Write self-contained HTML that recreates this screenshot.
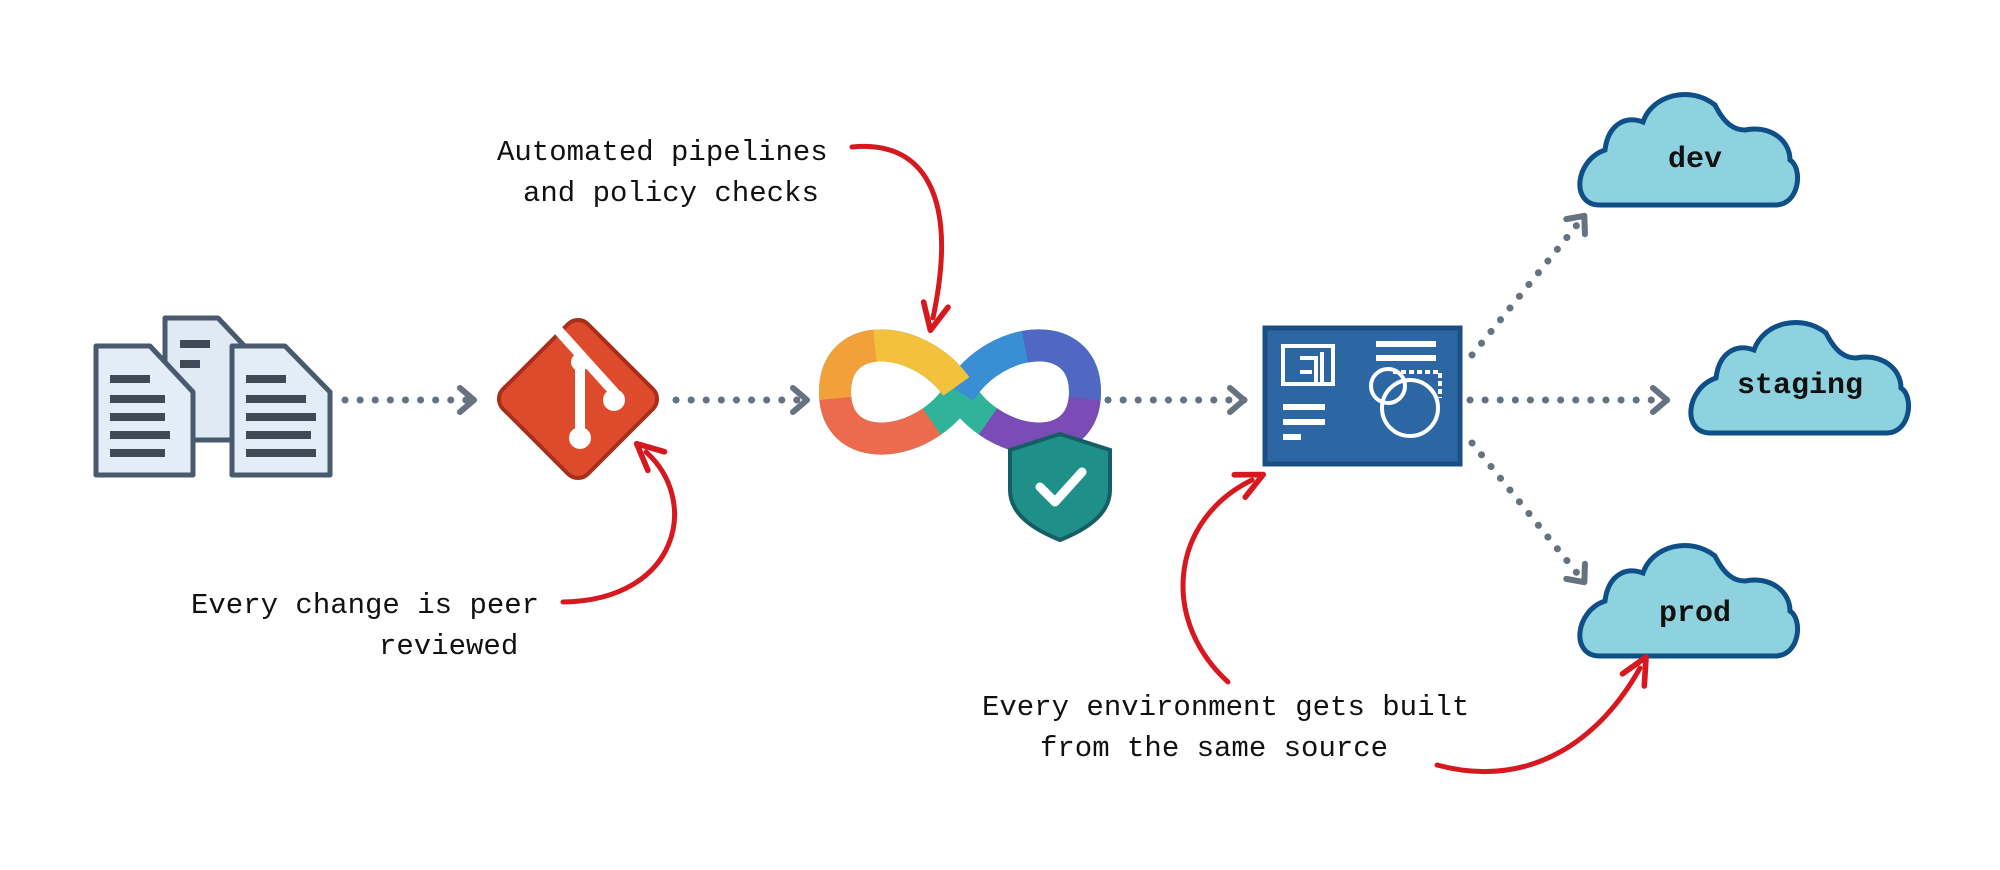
<!DOCTYPE html>
<html><head><meta charset="utf-8"><style>
html,body{margin:0;padding:0;background:#fff;}
svg{display:block}
text{font-family:"Liberation Mono",monospace;fill:#111;}
</style></head><body>
<svg width="2000" height="870" viewBox="0 0 2000 870" xmlns="http://www.w3.org/2000/svg">
<defs>
<marker id="ch" viewBox="0 0 20 30" refX="18" refY="15" markerWidth="20" markerHeight="30" markerUnits="userSpaceOnUse" orient="auto">
<path d="M3,3 L17,15 L3,27" fill="none" stroke="#66727f" stroke-width="6" stroke-linecap="round" stroke-linejoin="round"/></marker>
<marker id="rh" viewBox="0 0 30 30" refX="15" refY="15" markerWidth="34" markerHeight="34" markerUnits="userSpaceOnUse" orient="auto">
<path d="M3,4 L26,15 L3,26" fill="none" stroke="#d7191f" stroke-width="5" stroke-linecap="round" stroke-linejoin="round"/></marker>
</defs>

<!-- documents -->
<g stroke="#4a5a6e" stroke-width="5" stroke-linejoin="round">
<path d="M165,318 H218 L252,354 V440 H165 Z" fill="#dfeaf5"/>
<path d="M96,346 H150 L193,392 V475 H96 Z" fill="#e3edf7"/>
<path d="M232,346 H285 L330,392 V475 H232 Z" fill="#e3edf7"/>
</g>
<g fill="#3e4a58">
<rect x="180" y="340" width="30" height="8"/><rect x="180" y="360" width="20" height="8"/>
<rect x="110" y="375" width="40" height="8"/><rect x="110" y="395" width="55" height="8"/><rect x="110" y="413" width="55" height="8"/><rect x="110" y="431" width="60" height="8"/><rect x="110" y="449" width="55" height="8"/>
<rect x="246" y="375" width="40" height="8"/><rect x="246" y="395" width="60" height="8"/><rect x="246" y="413" width="70" height="8"/><rect x="246" y="431" width="65" height="8"/><rect x="246" y="449" width="70" height="8"/>
</g>

<!-- dotted connectors -->
<g stroke="#66727f" stroke-width="7" stroke-linecap="round" stroke-dasharray="0.1 15" fill="none">
<line x1="345" y1="400" x2="475" y2="400" marker-end="url(#ch)"/>
<line x1="676" y1="400" x2="808" y2="400" marker-end="url(#ch)"/>
<line x1="1108" y1="400" x2="1245" y2="400" marker-end="url(#ch)"/>
<line x1="1470" y1="400" x2="1668" y2="400" marker-end="url(#ch)"/>
<line x1="1472" y1="355" x2="1585" y2="215" marker-end="url(#ch)"/>
<line x1="1472" y1="443" x2="1585" y2="583" marker-end="url(#ch)"/>
</g>

<!-- git diamond -->
<g transform="translate(578,399) rotate(45)">
<rect x="-60" y="-60" width="120" height="120" rx="14" fill="#de4a2c" stroke="#a8301b" stroke-width="4"/>
</g>
<g stroke="#fff" stroke-width="10" stroke-linecap="round" fill="#fff">
<line x1="558" y1="330" x2="614" y2="392"/>
<line x1="580" y1="360" x2="580" y2="438"/>
<circle cx="580" cy="362" r="9" stroke="none"/>
<circle cx="614" cy="400" r="11" stroke="none"/>
<circle cx="580" cy="438" r="11" stroke="none"/>
</g>

<!-- infinity -->
<g fill="none" stroke-width="32">
<path pathLength="100" d="M960,392 C995,335 1085,325 1085,392 C1085,459 995,449 960,392 C925,335 835,325 835,392 C835,459 925,449 960,392 Z" stroke="#2fb49a"/>
<path pathLength="100" d="M960,392 C995,335 1085,325 1085,392 C1085,459 995,449 960,392 C925,335 835,325 835,392 C835,459 925,449 960,392 Z" stroke="#3a8ed3" stroke-dasharray="14 86"/>
<path pathLength="100" d="M960,392 C995,335 1085,325 1085,392 C1085,459 995,449 960,392 C925,335 835,325 835,392 C835,459 925,449 960,392 Z" stroke="#5067c4" stroke-dasharray="0 12 16 72"/>
<path pathLength="100" d="M960,392 C995,335 1085,325 1085,392 C1085,459 995,449 960,392 C925,335 835,325 835,392 C835,459 925,449 960,392 Z" stroke="#7b4cb6" stroke-dasharray="0 26 18 56"/>
<path pathLength="100" d="M960,392 C995,335 1085,325 1085,392 C1085,459 995,449 960,392 C925,335 835,325 835,392 C835,459 925,449 960,392 Z" stroke="#f3c13e" stroke-dasharray="0 51 15 34"/>
<path pathLength="100" d="M960,392 C995,335 1085,325 1085,392 C1085,459 995,449 960,392 C925,335 835,325 835,392 C835,459 925,449 960,392 Z" stroke="#f2a03a" stroke-dasharray="0 65 12 23"/>
<path pathLength="100" d="M960,392 C995,335 1085,325 1085,392 C1085,459 995,449 960,392 C925,335 835,325 835,392 C835,459 925,449 960,392 Z" stroke="#ec6a4e" stroke-dasharray="0 76 18 6"/>
</g>
<path d="M1060,434 L1110,450 V490 C1110,515 1085,530 1060,540 C1035,530 1010,515 1010,490 V450 Z" fill="#1f8f8a" stroke="#145e64" stroke-width="4"/>
<path d="M1040,487 L1055,502 L1082,472" fill="none" stroke="#fff" stroke-width="9" stroke-linecap="round" stroke-linejoin="round"/>

<!-- dashboard -->
<rect x="1265" y="328" width="195" height="136" fill="#2d67a3" stroke="#1b4f84" stroke-width="5"/>
<g stroke="#fff" stroke-width="4" fill="none">
<rect x="1283" y="346" width="50" height="38"/>
<path d="M1300,358 H1316 V384 M1300,372 H1312 M1322,352 V384"/>
<circle cx="1388" cy="386" r="17"/><circle cx="1410" cy="408" r="28"/>
<path d="M1393,372 H1440 V398" stroke-dasharray="5 3"/>
</g>
<g fill="#fff">
<rect x="1376" y="341" width="60" height="6"/><rect x="1376" y="355" width="60" height="6"/>
<rect x="1283" y="404" width="42" height="6"/><rect x="1283" y="419" width="42" height="6"/><rect x="1283" y="434" width="18" height="6"/>
</g>

<!-- clouds -->
<g fill="#8fd2df" stroke="#0d4f86" stroke-width="5">
<path id="cl" d="M1600,205 C1570,205 1575,160 1605,150 C1608,125 1625,115 1643,122 C1652,95 1690,85 1715,105 C1725,125 1735,130 1745,130 C1770,125 1790,140 1790,160 C1803,168 1800,205 1775,205 Z"/>
<use href="#cl" transform="translate(111,228)"/>
<use href="#cl" transform="translate(0,451)"/>
</g>
<g font-family="Liberation Sans, sans-serif" font-weight="bold" font-size="30" text-anchor="middle">
<text x="1695" y="167">dev</text>
<text x="1800" y="393">staging</text>
<text x="1695" y="621">prod</text>
</g>

<!-- red annotation arrows -->
<g fill="none" stroke="#d7191f" stroke-width="5" stroke-linecap="round">
<path d="M852,147 C920,140 960,190 933,318" marker-end="url(#rh)"/>
<path d="M563,602 C680,600 700,500 646,452" marker-end="url(#rh)"/>
<path d="M1228,682 C1160,620 1170,520 1252,480" marker-end="url(#rh)"/>
<path d="M1437,765 C1530,790 1600,740 1640,668" marker-end="url(#rh)"/>
</g>

<!-- labels -->
<g font-size="29">
<text x="497" y="160">Automated pipelines</text>
<text x="523" y="201">and policy checks</text>
<text x="191" y="613">Every change is peer</text>
<text x="379" y="654">reviewed</text>
<text x="982" y="715">Every environment gets built</text>
<text x="1040" y="756">from the same source</text>
</g>
</svg>
</body></html>
